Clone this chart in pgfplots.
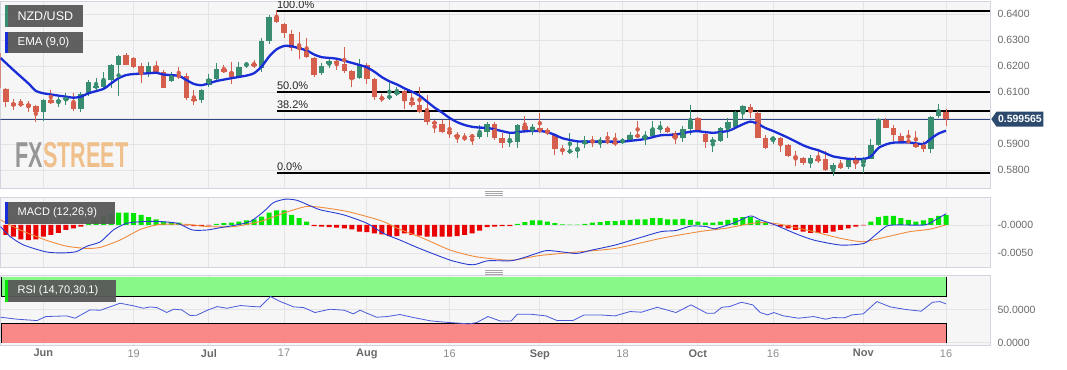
\documentclass[border=0pt]{standalone}
\usepackage{fontspec}
\setmainfont{Liberation Sans}
\usepackage{pgfplots}
\pgfplotsset{compat=1.18}
\usepackage{pgfplotstable}
\usetikzlibrary{shapes.symbols}

\definecolor{cgreen}{RGB}{56,140,112}
\definecolor{cred}{RGB}{214,94,76}
\definecolor{emablue}{RGB}{25,45,215}
\definecolor{panelbg}{RGB}{246,246,247}
\definecolor{gridc}{RGB}{228,228,232}
\definecolor{borderc}{RGB}{210,212,222}
\definecolor{tickc}{RGB}{105,105,105}
\definecolor{dayc}{RGB}{140,140,140}
\definecolor{tagc}{RGB}{44,74,110}
\definecolor{pricel}{RGB}{50,70,130}
\definecolor{macdblue}{RGB}{40,60,210}
\definecolor{sigorange}{RGB}{240,140,60}
\definecolor{hgreen}{RGB}{0,230,0}
\definecolor{hred}{RGB}{235,0,0}
\definecolor{rsigreen}{RGB}{128,250,128}
\definecolor{rsired}{RGB}{250,128,128}
\definecolor{labelbg}{RGB}{88,88,88}
\definecolor{fxgray}{RGB}{150,150,150}
\definecolor{fxorange}{RGB}{240,192,140}

% up candles: i O H L C
\pgfplotstableread{
i O H L C
0 0.6024 0.6072 0.5988 0.6069
2 0.6062 0.6079 0.6044 0.6067
3 0.6068 0.6095 0.6050 0.6076
5 0.6033 0.6099 0.6024 0.6092
6 0.6095 0.6146 0.6086 0.6140
7 0.6118 0.6153 0.6108 0.6123
8 0.6121 0.6178 0.6114 0.6146
9 0.6146 0.6206 0.6114 0.6204
10 0.6204 0.6242 0.6085 0.6238
14 0.6172 0.6217 0.6159 0.6200
17 0.6144 0.6175 0.6138 0.6162
21 0.6069 0.6112 0.6056 0.6108
22 0.6127 0.6168 0.6121 0.6149
23 0.6150 0.6210 0.6146 0.6188
26 0.6162 0.6217 0.6155 0.6197
27 0.6204 0.6217 0.6191 0.6209
29 0.6191 0.6306 0.6178 0.6294
30 0.6296 0.6396 0.6283 0.6390
37 0.6172 0.6210 0.6165 0.6201
38 0.6206 0.6227 0.6191 0.6219
42 0.6155 0.6227 0.6150 0.6204
46 0.6078 0.6133 0.6069 0.6085
47 0.6091 0.6121 0.6086 0.6101
58 0.5928 0.5973 0.5919 0.5941
59 0.5947 0.5983 0.5928 0.5978
62 0.5909 0.5941 0.5890 0.5912
63 0.5909 0.5976 0.5886 0.5971
65 0.5954 0.5978 0.5933 0.5965
70 0.5870 0.5941 0.5860 0.5874
71 0.5874 0.5915 0.5847 0.5881
72 0.5899 0.5930 0.5883 0.5915
74 0.5906 0.5928 0.5883 0.5914
77 0.5906 0.5924 0.5899 0.5914
78 0.5915 0.5947 0.5909 0.5935
80 0.5926 0.5950 0.5896 0.5931
81 0.5931 0.5988 0.5924 0.5958
82 0.5959 0.5988 0.5941 0.5963
85 0.5922 0.5971 0.5909 0.5958
86 0.5958 0.6050 0.5933 0.5988
89 0.5909 0.5928 0.5870 0.5913
90 0.5912 0.5967 0.5906 0.5963
91 0.5963 0.5999 0.5922 0.5983
92 0.5967 0.6027 0.5960 0.6022
93 0.6022 0.6050 0.5992 0.6044
97 0.5918 0.5932 0.5899 0.5924
102 0.5826 0.5856 0.5806 0.5845
105 0.5803 0.5825 0.5775 0.5819
107 0.5810 0.5845 0.5803 0.5838
109 0.5826 0.5851 0.5787 0.5841
110 0.5842 0.5918 0.5841 0.5896
111 0.5896 0.6001 0.5894 0.5996
118 0.5881 0.6009 0.5867 0.6005
119 0.6009 0.6053 0.5999 0.6021
}\upc

% down candles: i O H L C
\pgfplotstableread{
i O H L C
-6 0.6249 0.6262 0.6108 0.6114
-5 0.6111 0.6114 0.6044 0.6063
-4 0.6059 0.6072 0.6031 0.6046
-3 0.6055 0.6072 0.6044 0.6051
-2 0.6054 0.6067 0.6024 0.6044
-1 0.6044 0.6050 0.5983 0.6024
1 0.6069 0.6108 0.6054 0.6059
4 0.6063 0.6095 0.6027 0.6033
11 0.6242 0.6249 0.6204 0.6206
12 0.6229 0.6236 0.6191 0.6197
13 0.6200 0.6210 0.6133 0.6172
15 0.6200 0.6219 0.6172 0.6178
16 0.6178 0.6185 0.6114 0.6117
18 0.6163 0.6197 0.6149 0.6160
19 0.6162 0.6172 0.6069 0.6076
20 0.6073 0.6108 0.6050 0.6068
24 0.6188 0.6204 0.6172 0.6178
25 0.6178 0.6217 0.6129 0.6159
28 0.6208 0.6223 0.6191 0.6200
31 0.6390 0.6415 0.6364 0.6368
32 0.6362 0.6366 0.6306 0.6326
33 0.6322 0.6338 0.6258 0.6268
34 0.6274 0.6332 0.6227 0.6264
35 0.6262 0.6306 0.6229 0.6236
36 0.6232 0.6236 0.6159 0.6165
39 0.6219 0.6229 0.6185 0.6208
40 0.6206 0.6274 0.6172 0.6181
41 0.6181 0.6185 0.6121 0.6150
43 0.6204 0.6210 0.6129 0.6150
44 0.6150 0.6152 0.6069 0.6082
45 0.6078 0.6091 0.6060 0.6073
48 0.6104 0.6108 0.6035 0.6065
49 0.6063 0.6099 0.6044 0.6050
50 0.6050 0.6121 0.6018 0.6022
51 0.6022 0.6088 0.5973 0.5983
52 0.5986 0.5992 0.5941 0.5977
53 0.5977 0.5992 0.5941 0.5947
54 0.5950 0.5992 0.5922 0.5937
55 0.5935 0.5947 0.5903 0.5927
56 0.5924 0.5941 0.5910 0.5921
57 0.5932 0.5937 0.5896 0.5928
60 0.5978 0.5986 0.5915 0.5922
61 0.5922 0.5941 0.5883 0.5903
64 0.5969 0.6008 0.5941 0.5956
66 0.5963 0.6018 0.5941 0.5945
67 0.5953 0.5960 0.5933 0.5942
68 0.5935 0.5937 0.5858 0.5881
69 0.5881 0.5896 0.5856 0.5873
73 0.5914 0.5930 0.5890 0.5906
75 0.5914 0.5947 0.5899 0.5906
76 0.5909 0.5941 0.5894 0.5899
79 0.5935 0.5988 0.5924 0.5928
83 0.5963 0.5971 0.5941 0.5945
84 0.5941 0.5950 0.5899 0.5924
87 0.5999 0.6005 0.5945 0.5947
88 0.5937 0.5947 0.5883 0.5909
94 0.6042 0.6054 0.6001 0.6022
95 0.6018 0.6027 0.5922 0.5924
96 0.5922 0.5935 0.5881 0.5886
98 0.5924 0.5928 0.5870 0.5896
99 0.5894 0.5899 0.5851 0.5855
100 0.5851 0.5872 0.5817 0.5847
101 0.5847 0.5851 0.5820 0.5829
103 0.5842 0.5872 0.5826 0.5838
104 0.5842 0.5872 0.5796 0.5800
106 0.5819 0.5838 0.5803 0.5809
108 0.5838 0.5855 0.5803 0.5826
112 0.5992 0.6001 0.5960 0.5963
113 0.5963 0.5973 0.5912 0.5935
114 0.5932 0.5941 0.5906 0.5909
115 0.5912 0.5954 0.5903 0.5908
116 0.5899 0.5950 0.5886 0.5890
117 0.5894 0.5912 0.5868 0.5881
120 0.6021 0.6035 0.5971 0.59957
}\downc

\pgfplotstableread{
i v
-5.7 0.6231
-4 0.6185
-2 0.6133
-1 0.6104
0 0.6095
2 0.6086
3 0.6082
4 0.6078
5 0.6082
6 0.6095
8 0.6112
9 0.6133
10 0.6153
11 0.6165
12 0.6169
14 0.6172
15 0.6174
16 0.6167
18 0.6162
19 0.6146
20 0.6131
21 0.6126
22 0.6133
23 0.6142
25 0.6153
27 0.6163
28 0.6172
29 0.6197
30 0.6236
31 0.6264
32 0.6277
33 0.6276
34 0.6268
35 0.6260
36 0.6244
37 0.6234
38 0.6231
39 0.6228
41 0.6212
42 0.6204
43 0.6195
44 0.6178
45 0.6157
46 0.6141
47 0.6129
48 0.6114
49 0.6101
50 0.6086
51 0.6063
52 0.6040
53 0.6021
54 0.6000
55 0.5984
56 0.5973
57 0.5966
58 0.5963
59 0.5962
60 0.5956
62 0.5943
63 0.5945
64 0.5949
66 0.5950
67 0.5945
68 0.5935
69 0.5922
71 0.5910
73 0.5909
75 0.5909
77 0.5909
78 0.5912
80 0.5919
82 0.5933
84 0.5936
86 0.5947
87 0.5949
89 0.5943
91 0.5950
92 0.5962
93 0.5976
94 0.5986
95 0.5977
96 0.5961
97 0.5950
99 0.5924
101 0.5895
102 0.5884
103 0.5876
104 0.5864
105 0.5852
107 0.5843
109 0.5842
110 0.5852
111 0.5884
112 0.5898
113 0.5905
115 0.5906
117 0.5900
118 0.5921
119 0.5940
120 0.5951
}\ema

\pgfplotstableread{
i v
-5.7 -0.0003
-4.4 -0.0021
-2.6 -0.0036
0.3 -0.0048
2.3 -0.0050
4.3 -0.0048
5.8 -0.0038
7.6 -0.0030
9.3 -0.0009
11.1 0.0003
13.3 0.0006
15.5 0.0006
17.8 0.0003
19.8 -0.0009
21.8 -0.0009
23.5 -0.0005
25.3 -0.0001
27.5 0.0006
29.3 0.0024
30.6 0.0040
32.2 0.0046
33.7 0.0044
35.5 0.0034
36.8 0.0027
39.9 0.0018
43 0.0003
45.2 -0.0015
47.4 -0.0027
50.0 -0.0042
54.1 -0.0063
56.6 -0.0071
57.6 -0.0070
59.1 -0.0064
62.2 -0.0064
64.2 -0.0057
66.8 -0.0046
68.8 -0.0048
70.9 -0.0051
72.9 -0.0045
76.0 -0.0036
79.0 -0.0024
82.1 -0.0012
84.1 -0.0010
86.1 -0.0002
88.2 -0.0003
89.2 -0.0007
91.7 0.0003
94.0 0.0016
95.3 0.0009
97.3 0.0000
99.9 -0.0015
102.4 -0.0027
106.0 -0.0036
109.1 -0.0033
110.6 -0.0018
112.1 -0.0002
113.6 0.0000
117.2 0.0000
118.7 0.0010
120 0.0020
}\macd

\pgfplotstableread{
i v
-5.7 0.0009
-3.1 -0.0009
0.3 -0.0027
3.1 -0.0038
5.8 -0.0042
7.6 -0.0040
10.2 -0.0027
12.9 -0.0008
15.5 0.0001
19.1 0.0001
21.8 -0.0003
25.3 -0.0003
28.8 0.0006
31.9 0.0021
35.0 0.0033
37.7 0.0030
40.4 0.0024
43 0.0015
45.2 0.0006
47.4 -0.0008
50.5 -0.0024
54.1 -0.0045
57.6 -0.0057
62.2 -0.0063
65.8 -0.0055
70.4 -0.0049
76.0 -0.0042
82.1 -0.0024
87.2 -0.0012
90.7 -0.0006
94.3 0.0003
96.3 0.0004
98.4 0.0000
102.4 -0.0012
106.0 -0.0024
109.0 -0.0030
112.2 -0.0021
115.2 -0.0012
117.7 -0.0008
120 0.0000
}\signal

\pgfplotstableread{
i v
-5 -0.0018
-4 -0.0021
-3 -0.0026
-2 -0.0027
-1 -0.0026
0 -0.0021
1 -0.0018
2 -0.0014
3 -0.0009
4 -0.0006
5 -0.0003
6 0.0003
7 0.0008
8 0.0015
9 0.0020
10 0.0022
11 0.0022
12 0.0021
13 0.0018
14 0.0014
15 0.0010
16 0.0006
17 0.0005
18 0.0004
19 -0.0001
20 -0.0002
21 -0.0002
22 -0.0001
23 0.0002
24 0.0003
25 0.0004
26 0.0006
27 0.0008
28 0.0010
29 0.0015
30 0.0022
31 0.0026
32 0.0026
33 0.0018
34 0.0012
35 0.0006
36 -0.0002
37 -0.0003
38 -0.0004
39 -0.0005
40 -0.0006
41 -0.0008
42 -0.0012
43 -0.0013
44 -0.0015
45 -0.0017
46 -0.0020
47 -0.0020
48 -0.0015
49 -0.0018
50 -0.0019
51 -0.0021
52 -0.0021
53 -0.0021
54 -0.0021
55 -0.0020
56 -0.0018
57 -0.0015
58 -0.0010
59 -0.0004
60 -0.0003
61 -0.0002
62 -0.0002
63 0.0002
64 0.0005
65 0.0008
66 0.0008
67 0.0006
68 0.0003
69 0.0001
70 0.00006
71 0.00006
72 0.0002
73 0.0004
74 0.0005
75 0.0007
76 0.0007
77 0.0008
78 0.0009
79 0.0010
80 0.0010
81 0.0012
82 0.0012
83 0.0010
84 0.0010
85 0.0011
86 0.0009
87 0.0006
88 0.0004
89 0.0004
90 0.0006
91 0.0009
92 0.0012
93 0.0014
94 0.0014
95 0.0008
96 0.0003
97 -0.00004
98 -0.0003
99 -0.0006
100 -0.0009
101 -0.0012
102 -0.0014
103 -0.0014
104 -0.0014
105 -0.0012
106 -0.0009
107 -0.0006
108 -0.0003
109 -0.0001
110 0.0006
111 0.0014
112 0.0016
113 0.0016
114 0.0012
115 0.0009
116 0.0006
117 0.0008
118 0.0012
119 0.0016
120 0.0018
}\hist

\pgfplotstableread{
i v
-5.7 38.9
-3.5 35.9
-0.85 33.8
0.3 39.9
3.1 40.9
4.2 37.4
6.2 50
7.6 49.5
10.2 60.1
12 56.1
13.3 52.5
14.2 54.5
15.1 53.5
16.4 46
17.3 51
18.4 50
19.5 41.4
20.4 42
21.8 49.5
23.1 55
24.4 52.5
26.2 56.6
28 55
28.8 54.5
30.2 70.2
31.5 62.6
33.3 54.5
34.6 53.5
36.1 46
38.1 51
40 49.5
41.2 44
42.1 49.5
43 45
44.3 38.9
45.7 39.9
47.4 43
49 38.9
51.5 33.3
54 30.8
56.6 28.8
57.6 30.8
59.1 39.9
60.7 33.3
62.2 33.3
63 43.4
64.8 43.4
66.8 40.9
68.3 33.8
70.4 33.8
71.9 42.4
73.9 42.4
76 40.9
78 47.5
79.5 46.5
81.6 54
84.1 46
86.1 57.6
88.2 44.9
89.2 44.9
90.2 54
91.2 55
92.8 61.6
94.3 57.6
95.3 46
96.3 42.4
97.1 46
98.4 40.9
100.4 37.4
102.4 39.9
104 35.9
105 38.4
106.5 37.9
107.5 42.4
109 44
110.8 62.6
112.6 54.5
114.7 50.5
116.7 48
118.2 61.6
119.2 62.6
120 59.1
}\rsi

\pgfplotsset{
  panel/.style={
    scale only axis, width=990pt,
    xmin=-5.714, xmax=125.85,
    axis background/.style={fill=panelbg},
    axis line style={borderc},
    grid=major, grid style={gridc, line width=0.8pt},
    major tick length=0pt,
    xtick={0,12,22,32,43,54,66,77,87,97,109,120},
    yticklabel pos=right,
    scaled y ticks=false,
    yticklabel style={font=\fontsize{10.5}{12}\selectfont, text=tickc, xshift=4pt, anchor=west},
  },
  nox/.style={xticklabel style={text opacity=0, opacity=0}},
  wick/.style={color=#1, only marks, mark=none, forget plot,
    error bars/.cd, y dir=both, y explicit, error mark=none,
    error bar style={draw=#1, line width=1pt}},
  body/.style={color=#1, only marks, mark=none, forget plot,
    error bars/.cd, y dir=both, y explicit, error mark=none,
    error bar style={draw=#1, line width=5.5pt}},
}

\begin{document}
\begin{tikzpicture}[x=1pt,y=1pt]
\path (0,0) rectangle (1067,-370);

% ---------------- main price panel ----------------
\begin{axis}[panel, nox, at={(0pt,-1pt)}, anchor=north west, height=187pt,
  ymin=0.57308, ymax=0.645,
  ytick={0.58,0.59,0.60,0.61,0.62,0.63,0.64},
  yticklabels={0.5800,0.5900,,0.6100,0.6200,0.6300,0.6400}]
\addplot[pricel, line width=0.8pt, forget plot] coordinates {(-5.714,0.599565) (125.85,0.599565)};
\addplot[black, line width=2pt, forget plot] coordinates {(31,0.64115) (125.85,0.64115)};
\addplot[black, line width=2pt, forget plot] coordinates {(31,0.6100) (125.85,0.6100)};
\addplot[black, line width=2pt, forget plot] coordinates {(31,0.60264) (125.85,0.60264)};
\addplot[black, line width=2pt, forget plot] coordinates {(31,0.57885) (125.85,0.57885)};
\node[anchor=south west, inner sep=1pt, font=\fontsize{11}{12}\selectfont, text=black!85] at (axis cs:30.9,0.64175) {100.0\%};
\node[anchor=south west, inner sep=1pt, font=\fontsize{11}{12}\selectfont, text=black!85] at (axis cs:30.9,0.6106) {50.0\%};
\node[anchor=south west, inner sep=1pt, font=\fontsize{11}{12}\selectfont, text=black!85] at (axis cs:30.9,0.60324) {38.2\%};
\node[anchor=south west, inner sep=1pt, font=\fontsize{11}{12}\selectfont, text=black!85] at (axis cs:30.9,0.57945) {0.0\%};
\addplot[wick=cgreen] table[x=i, y expr=(\thisrow{H}+\thisrow{L})/2, y error expr=(\thisrow{H}-\thisrow{L})/2] {\upc};
\addplot[body=cgreen] table[x=i, y expr=(\thisrow{O}+\thisrow{C})/2, y error expr=abs(\thisrow{C}-\thisrow{O})/2+0.00003] {\upc};
\addplot[wick=cred] table[x=i, y expr=(\thisrow{H}+\thisrow{L})/2, y error expr=(\thisrow{H}-\thisrow{L})/2] {\downc};
\addplot[body=cred] table[x=i, y expr=(\thisrow{O}+\thisrow{C})/2, y error expr=abs(\thisrow{C}-\thisrow{O})/2+0.00003] {\downc};
\addplot[emablue, line width=2.3pt, smooth, tension=0.4, forget plot] table[x=i, y=v] {\ema};
\coordinate (tag) at (axis cs:125.85,0.599565);
\end{axis}

% ---------------- MACD panel ----------------
\begin{axis}[panel, nox, at={(0pt,-197pt)}, anchor=north west, height=70pt,
  ymin=-0.0075, ymax=0.005,
  ytick={-0.005,0}, yticklabels={-0.0050,-0.0000}]
\addplot[ybar, bar width=5pt, bar shift=0pt, fill=hgreen, draw=none, restrict y to domain=0:1, forget plot] table[x=i, y=v] {\hist};
\addplot[ybar, bar width=5pt, bar shift=0pt, fill=hred, draw=none, restrict y to domain=-1:0, forget plot] table[x=i, y=v] {\hist};
\addplot[sigorange, line width=0.9pt, smooth, tension=0.4, forget plot] table[x=i, y=v] {\signal};
\addplot[macdblue, line width=0.9pt, smooth, tension=0.4, forget plot] table[x=i, y=v] {\macd};
\end{axis}

% ---------------- RSI panel ----------------
\begin{axis}[panel, at={(0pt,-275pt)}, anchor=north west, height=70pt,
  ymin=-3.03, ymax=103.03,
  ytick={0,50}, yticklabels={0.0000,50.0000},
  xticklabels={{\color{tickc}\bfseries Jun},19,{\color{tickc}\bfseries Jul},17,{\color{tickc}\bfseries Aug},16,{\color{tickc}\bfseries Sep},18,{\color{tickc}\bfseries Oct},16,{\color{tickc}\bfseries Nov},16},
  xticklabel style={font=\fontsize{11}{13}\selectfont, text=dayc, yshift=-1pt}]
\addplot[fill=rsigreen, fill opacity=0.93, draw=none, forget plot] coordinates {(-5.6,70) (120,70) (120,100) (-5.6,100)} -- cycle;
\addplot[fill=rsired, fill opacity=0.93, draw=none, forget plot] coordinates {(-5.6,0) (120,0) (120,30) (-5.6,30)} -- cycle;
\addplot[black, line width=0.8pt, forget plot] coordinates {(-5.6,100) (-5.6,70) (120,70) (120,100)};
\addplot[black, line width=0.8pt, forget plot] coordinates {(-5.6,0) (-5.6,30) (120,30) (120,0)};
\addplot[macdblue!85, line width=0.8pt, forget plot] table[x=i, y=v] {\rsi};
\end{axis}

% price tag
\node[signal, signal to=west, signal pointer angle=110, fill=tagc, text=white, inner sep=1.5pt, minimum height=15pt,
  font=\fontsize{10.5}{12}\selectfont\bfseries, anchor=west] at ([xshift=1pt]tag) {0.599565};

% panel separators (grips)
\foreach \yy in {-191.5,-193.2,-194.9,-270.5,-272.2,-273.9}{
  \draw[gray!70, line width=0.6pt] (485,\yy) -- (503,\yy);
}

% label boxes
\fill[labelbg, opacity=0.95] (5,-5) rectangle (83,-27);
\fill[cgreen] (5,-5) rectangle (7.5,-27);
\node[anchor=west, text=white, font=\fontsize{12.5}{14}\selectfont, inner sep=0pt] at (17,-16) {NZD/USD};
\fill[labelbg, opacity=0.95] (5,-32) rectangle (83,-53);
\fill[emablue] (5,-32) rectangle (7.5,-53);
\node[anchor=west, text=white, font=\fontsize{11.5}{14}\selectfont, inner sep=0pt] at (17,-42.5) {EMA (9,0)};
\fill[labelbg, opacity=0.95] (5,-202) rectangle (115,-224);
\fill[emablue] (5,-202) rectangle (7.5,-224);
\node[anchor=west, text=white, font=\fontsize{11}{13}\selectfont, inner sep=0pt] at (17,-213) {MACD (12,26,9)};
\fill[labelbg, opacity=0.95] (5,-280) rectangle (116,-302);
\fill[hgreen] (5,-280) rectangle (7.5,-302);
\node[anchor=west, text=white, font=\fontsize{11}{13}\selectfont, inner sep=0pt] at (17,-291) {RSI (14,70,30,1)};

% watermark
\node[anchor=west, inner sep=0pt] at (15,-155) {\scalebox{0.6}[1]{\fontsize{36}{36}\selectfont\bfseries\textcolor{fxgray}{FX}\textcolor{fxorange}{STREET}}};
\end{tikzpicture}
\end{document}
